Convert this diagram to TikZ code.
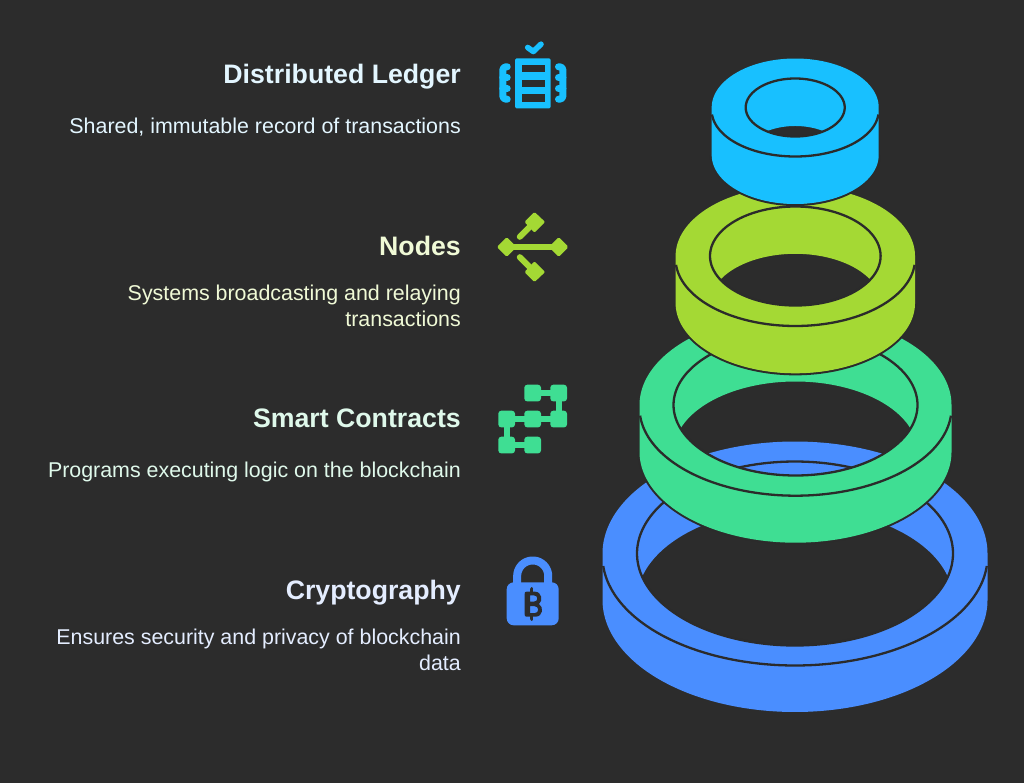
\documentclass[tikz,border=0pt]{standalone}
\usepackage{fontspec}
\setmainfont{Liberation Sans}
\definecolor{bgc}{HTML}{2C2C2C}
\definecolor{linec}{HTML}{2B2B2B}
\definecolor{cyanc}{HTML}{18C0FF}
\definecolor{limec}{HTML}{A4D934}
\definecolor{greenc}{HTML}{3FDE93}
\definecolor{bluec}{HTML}{4A8EFF}
\definecolor{cyant}{HTML}{E3F6FF}
\definecolor{limet}{HTML}{F0FAD6}
\definecolor{greent}{HTML}{DFF9EB}
\definecolor{bluet}{HTML}{E4EDFF}
\tikzset{
  titletext/.style={inner sep=0pt,anchor=base east,font=\fontsize{26.7}{30}\selectfont\bfseries},
  desctext/.style={inner sep=0pt,anchor=base east,align=right,font=\fontsize{21.4}{25.4}\selectfont},
  ringline/.style={draw=linec,line width=2.3pt},
  iconline/.style={line width=7pt,line cap=round,line join=round},
  tile/.style={fill=greenc,rounded corners=3pt}
}
% cx cy rx ry irx iry h colour foot
\newcommand{\myring}[9]{%
  \pgfmathsetmacro{\tzero}{asin(#7/(2*#6))}%
  \pgfmathsetmacro{\tone}{180-\tzero}%
  \pgfmathsetmacro{\ttwo}{180+\tzero}%
  \pgfmathsetmacro{\tthree}{360-\tzero}%
  #9
  \fill[#8,even odd rule]
    plot[domain=180:360,samples=120,variable=\t] ({#1+#3*cos(\t)},{#2+#4*sin(\t)})
    -- plot[domain=0:180,samples=120,variable=\t] ({#1+#3*cos(\t)},{#2+#7+#4*sin(\t)}) -- cycle
    plot[domain=\tzero:\tone,samples=90,variable=\t] ({#1+#5*cos(\t)},{#2+#6*sin(\t)})
    -- plot[domain=\ttwo:\tthree,samples=90,variable=\t] ({#1+#5*cos(\t)},{#2+#7+#6*sin(\t)}) -- cycle;
  \draw[ringline] plot[domain=0:360,samples=160,variable=\t] ({#1+#5*cos(\t)},{#2+#6*sin(\t)}) -- cycle;
  \draw[ringline] plot[domain=5:175,samples=120,variable=\t] ({#1+#3*cos(\t)},{#2+3+(#4-3)*sin(\t)});
}
\newcommand{\ringfoot}[4]{\draw[ringline] plot[domain=0:180,samples=100,variable=\t] ({#1+(#3+0.9)*cos(\t)},{#2+(#4+0.9)*sin(\t)});}
\begin{document}
\begin{tikzpicture}[x=1pt,y=-1pt]
\useasboundingbox (0,0) rectangle (1024,783);
\fill[bgc] (0,0) rectangle (1024,783);

% rings, back to front
\myring{795}{553.5}{192.5}{112}{158}{92}{46.5}{bluec}{}
\myring{795.5}{405}{156}{90.7}{122}{70.5}{47}{greenc}{\ringfoot{795.5}{452}{156}{90.7}}
\myring{795.3}{256}{119.7}{70}{85.3}{49.5}{47.3}{limec}{\ringfoot{795.3}{303.3}{119.7}{70}}
\myring{795.2}{107.5}{83.5}{49}{49.5}{29}{47.5}{cyanc}{\ringfoot{795.2}{155}{83.5}{49}}

% texts
\node[titletext,text=cyant] (t1) at (461,84) {Distributed Ledger};
\node[desctext,text=cyant] (d1) at (461,133.3) {Shared, immutable record of transactions};
\node[titletext,text=limet] (t2) at (461,256) {Nodes};
\node[desctext,text=limet] (d2) at (461,326) {Systems broadcasting and relaying\\transactions};
\node[titletext,text=greent] (t3) at (461,427.7) {Smart Contracts};
\node[desctext,text=greent] (d3) at (461,477.3) {Programs executing logic on the blockchain};
\node[titletext,text=bluet] (t4) at (461,599.5) {Cryptography};
\node[desctext,text=bluet] (d4) at (461,670) {Ensures security and privacy of blockchain\\data};

% ledger icon
\fill[cyanc,rounded corners=1.5pt] (515,58.3) rectangle (550.7,108.3);
\fill[bgc] (521.5,65) rectangle (544.5,72.5);
\fill[bgc] (521.5,79.6) rectangle (544.5,87.2);
\fill[bgc] (521.5,94.2) rectangle (544.5,101.8);
\draw[cyanc,line width=5.6pt,line cap=round,line join=round] (527.7,47.5) -- (533.3,51.5) -- (541,44.2);
\draw[cyanc,iconline] (507.2,66.8) -- (506,66.8) to[out=180,in=90] (502.8,70) -- (502.8,96) to[out=270,in=180] (506,99.2) -- (507.2,99.2);
\draw[cyanc,iconline] (502.8,77.5) -- (507.2,77.5) (502.8,88.5) -- (507.2,88.5);
\draw[cyanc,iconline] (558.5,66.8) -- (559.7,66.8) to[out=0,in=90] (562.9,70) -- (562.9,96) to[out=270,in=0] (559.7,99.2) -- (558.5,99.2);
\draw[cyanc,iconline] (562.9,77.5) -- (558.5,77.5) (562.9,88.5) -- (558.5,88.5);

% nodes icon
\draw[limec,iconline,line width=6pt] (506.7,247) -- (558.7,247);
\draw[limec,iconline,line width=6pt] (519.8,236.8) -- (532,224.7);
\draw[limec,iconline,line width=6pt] (519.8,257.2) -- (532,269.3);
\fill[limec,draw=limec,line width=3pt,line join=round] (506.7,239.3) -- (514.4,247) -- (506.7,254.7) -- (499,247) -- cycle;
\fill[limec,draw=limec,line width=3pt,line join=round] (558.7,239.3) -- (566.4,247) -- (558.7,254.7) -- (551,247) -- cycle;
\fill[limec,draw=limec,line width=3pt,line join=round] (534.5,214) -- (543,222) -- (534.5,230.5) -- (526.5,222) -- cycle;
\fill[limec,draw=limec,line width=3pt,line join=round] (534.5,263.5) -- (543,272) -- (534.5,280) -- (526.5,272) -- cycle;

% smart contracts icon
\draw[greenc,line width=6.4pt] (532.7,393) -- (558.7,393) -- (558.7,419) -- (506.7,419) -- (506.7,445) -- (532.7,445);
\fill[tile] (524.3,384.7) rectangle (541,401.4);
\fill[tile] (550.3,384.7) rectangle (567,401.4);
\fill[tile] (498.3,410.7) rectangle (515,427.4);
\fill[tile] (524.3,410.7) rectangle (541,427.4);
\fill[tile] (550.3,410.7) rectangle (567,427.4);
\fill[tile] (498.3,436.7) rectangle (515,453.4);
\fill[tile] (524.3,436.7) rectangle (541,453.4);

% lock icon
\draw[bluec,line width=8pt] (517.2,590) -- plot[domain=180:360,samples=40,variable=\t] ({532.7+15.5*cos(\t)},{576+15.5*sin(\t)}) -- (548.2,590);
\fill[bluec,rounded corners=7pt] (506.7,582.3) rectangle (558.7,625.3);
\fill[bgc,even odd rule]
  (526.5,591.7) -- (535,591.7) .. controls (542,591.7) and (543,601) .. (539,604) .. controls (544,607) and (543,616.7) .. (535.5,616.7) -- (526.5,616.7) .. controls (525,616.7) and (524.7,615.7) .. (524.7,614.5) -- (524.7,593.7) .. controls (524.7,592.5) and (525,591.7) .. (526.5,591.7) -- cycle
  (530,595.4) -- (534,595.4) .. controls (538.4,595.4) and (538.4,601.6) .. (534,601.6) -- (530,601.6) -- cycle
  (530,606.2) -- (534.5,606.2) .. controls (539.4,606.2) and (539.4,613.2) .. (534.5,613.2) -- (530,613.2) -- cycle;
\draw[bgc,line width=3.8pt,line cap=round] (531.5,589) -- (531.5,592) (531.5,616.5) -- (531.5,619);
\end{tikzpicture}
\end{document}
